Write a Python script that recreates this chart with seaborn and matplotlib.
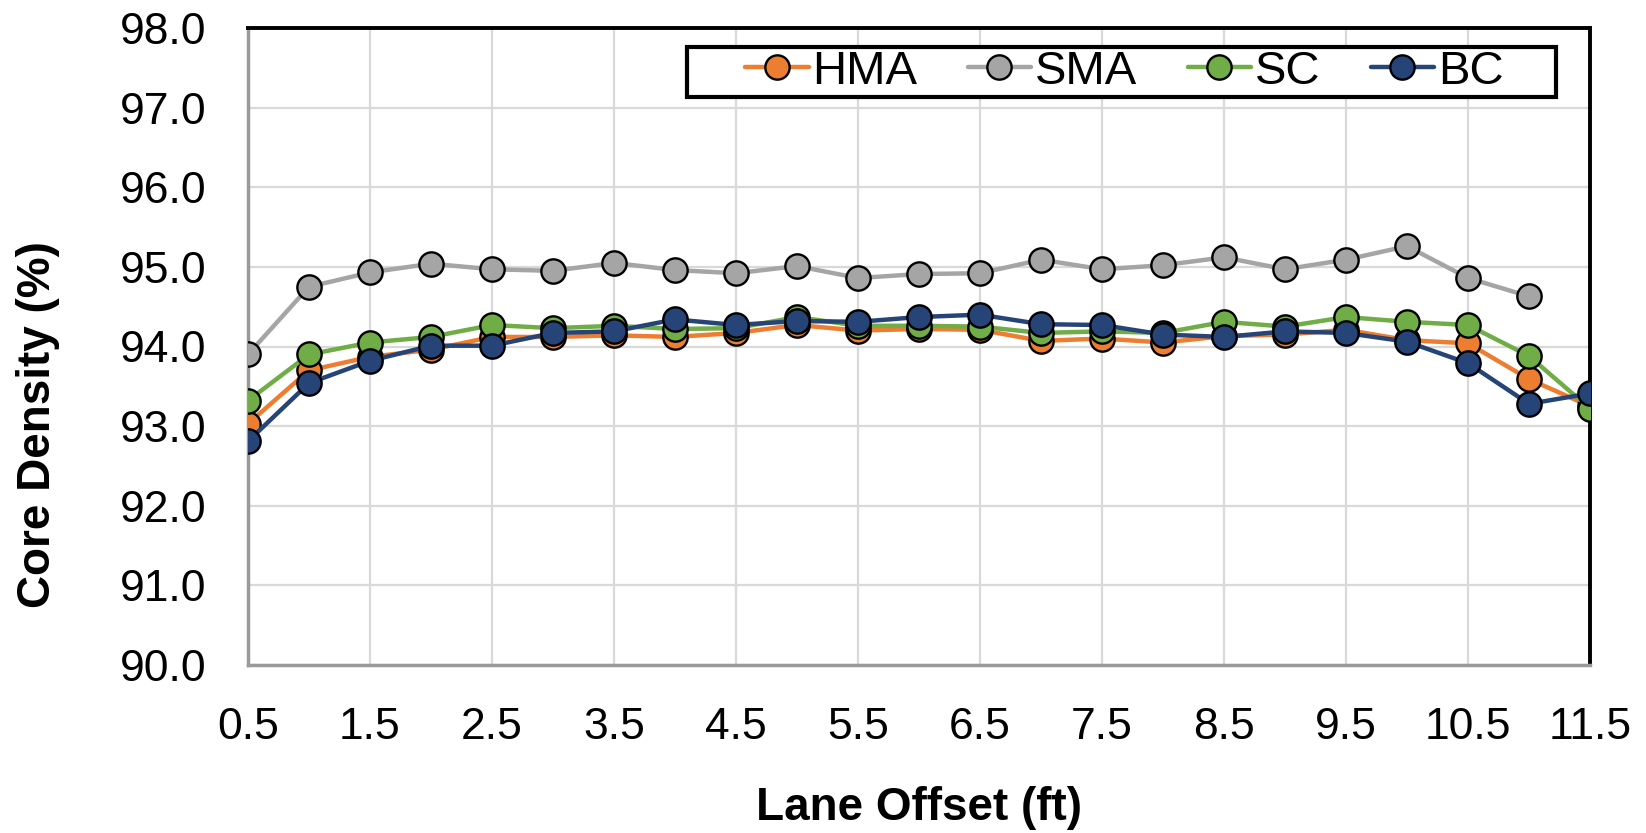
import numpy as np
import pandas as pd
import matplotlib
matplotlib.use('Agg')
import matplotlib.pyplot as plt
import seaborn as sns
from matplotlib.lines import Line2D
from matplotlib.patches import Rectangle

###
### DATA
###
lane_offset = [0.5, 1.0, 1.5, 2.0, 2.5, 3.0, 3.5, 4.0, 4.5, 5.0, 5.5, 6.0,
               6.5, 7.0, 7.5, 8.0, 8.5, 9.0, 9.5, 10.0, 10.5, 11.0, 11.5]

hma = [93.03, 93.70, 93.87, 93.96, 94.12, 94.12, 94.14, 94.12, 94.17, 94.27, 94.20, 94.22,
       94.21, 94.07, 94.10, 94.05, 94.13, 94.15, 94.21, 94.08, 94.04, 93.59, 93.25]
sma = [93.90, 94.75, 94.93, 95.04, 94.97, 94.95, 95.05, 94.96, 94.92, 95.01, 94.86, 94.91,
       94.92, 95.09, 94.97, 95.02, 95.12, 94.97, 95.09, 95.26, 94.86, 94.63, np.nan]
sc = [93.32, 93.90, 94.05, 94.12, 94.27, 94.23, 94.26, 94.22, 94.23, 94.37, 94.26, 94.26,
      94.25, 94.17, 94.19, 94.17, 94.31, 94.25, 94.37, 94.31, 94.27, 93.88, 93.22]
bc = [92.81, 93.54, 93.82, 94.01, 94.01, 94.17, 94.19, 94.34, 94.27, 94.32, 94.31, 94.37,
      94.40, 94.28, 94.27, 94.15, 94.12, 94.19, 94.17, 94.06, 93.79, 93.28, 93.41]

mixes = ['HMA', 'SMA', 'SC', 'BC']
colors = {'HMA': '#ED7D31', 'SMA': '#A5A5A5', 'SC': '#70AD47', 'BC': '#264478'}

x_ticks = [0.5, 1.5, 2.5, 3.5, 4.5, 5.5, 6.5, 7.5, 8.5, 9.5, 10.5, 11.5]
y_ticks = [90.0, 91.0, 92.0, 93.0, 94.0, 95.0, 96.0, 97.0, 98.0]

### long-form table for seaborn
df = pd.DataFrame({'Lane Offset': lane_offset, 'HMA': hma, 'SMA': sma, 'SC': sc, 'BC': bc})
long_df = df.melt(id_vars='Lane Offset', var_name='Mix', value_name='Density').dropna()

###
### PLOT
###
sns.set_style('white')
plt.rcParams['font.family'] = ['Liberation Sans', 'DejaVu Sans']
plt.rcParams['text.color'] = 'black'
plt.rcParams['xtick.color'] = 'black'
plt.rcParams['ytick.color'] = 'black'
plt.rcParams['axes.labelcolor'] = 'black'

fig = plt.figure(figsize=(16.46, 8.33), dpi=100)
ax = fig.add_axes([248 / 1646, 1 - 665 / 833, (1590 - 248) / 1646, (665 - 28) / 833])

sns.lineplot(data=long_df, x='Lane Offset', y='Density', hue='Mix', hue_order=mixes,
             palette=colors, marker='o', markersize=17.5, markeredgecolor='black',
             markeredgewidth=1.7, linewidth=3.2, legend=False, ax=ax, zorder=3)

ax.set_xlim(0.5, 11.5)
ax.set_ylim(90, 98)
ax.set_xticks(x_ticks)
ax.set_yticks(y_ticks)
ax.set_xticklabels([f'{t:.1f}' for t in x_ticks])
ax.set_yticklabels([f'{t:.1f}' for t in y_ticks])
ax.tick_params(axis='both', length=0, labelsize=32, pad=30, labelcolor='black')
ax.grid(True, color='#d9d9d9', linewidth=1.6, zorder=0)
ax.set_axisbelow(True)

for side in ['left', 'bottom']:
    ax.spines[side].set_color('#9a9a9a')
    ax.spines[side].set_linewidth(2.5)
for side in ['top', 'right']:
    ax.spines[side].set_color('black')
    ax.spines[side].set_linewidth(2.8)

ax.set_xlabel('Lane Offset (ft)', fontsize=33, fontweight='bold', color='black')
ax.set_ylabel('Core Density (%)', fontsize=33, fontweight='bold', color='black')
ax.xaxis.set_label_coords(0.5, -0.19)
ax.yaxis.set_label_coords(-0.140, 0.377)

### legend: box drawn as a patch, entries centred inside it
box = Rectangle((0.327, 0.892), 0.648, 0.078, transform=ax.transAxes, fill=True,
                facecolor='white', edgecolor='black', linewidth=3, zorder=5, clip_on=False)
ax.add_patch(box)

handles = [Line2D([0], [0], color=colors[m], lw=3.2, marker='o', markersize=17.5,
                  markerfacecolor=colors[m], markeredgecolor='black', markeredgewidth=1.7)
           for m in mixes]
leg = ax.legend(handles, mixes, ncol=4, loc='center', bbox_to_anchor=(0.653, 0.931),
                fontsize=34, frameon=False, handlelength=1.34,
                handletextpad=0.08, columnspacing=1.07, borderpad=0, borderaxespad=0)
leg.set_zorder(6)

fig.savefig('out.png', dpi=100)
